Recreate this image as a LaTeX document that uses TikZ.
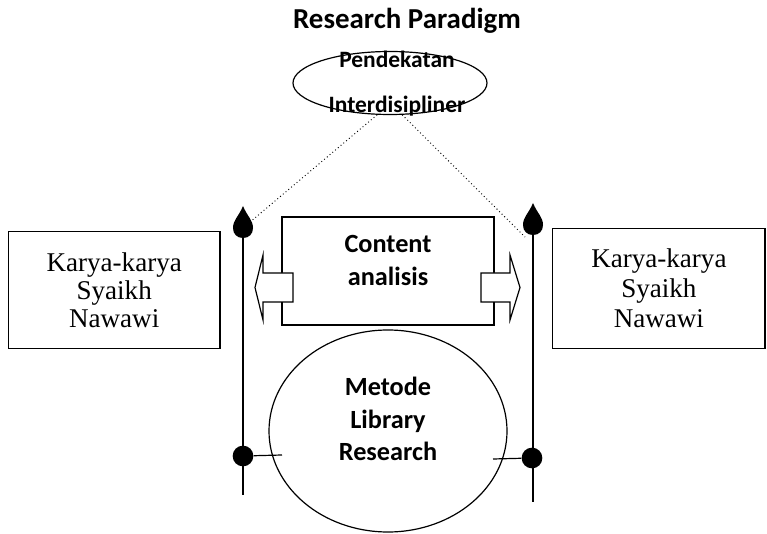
\documentclass[tikz,border=0pt]{standalone}
\usepackage{fontspec}
\setmainfont{Liberation Serif}
\newfontfamily\calibri{Carlito}
\usetikzlibrary{shapes.geometric, arrows, positioning}

\tikzstyle{frame} = [rectangle, draw=black, line width=0.9pt, text centered, align=center, font=\fontsize{20.3}{21}\selectfont]
\tikzstyle{oval} = [ellipse, draw=black, line width=0.9pt, inner sep=0pt]
\tikzstyle{boldtext} = [font=\calibri\bfseries\fontsize{19.7}{24.4}\selectfont, align=center]
\tikzstyle{dot} = [circle, fill=black, inner sep=0pt, minimum size=15.5pt]
\tikzstyle{pole} = [line width=0.9pt]
\tikzstyle{guide} = [dotted, line width=0.7pt]
\tikzstyle{blockarrow} = [draw=black, fill=white, line width=0.9pt]

\newcommand{\teardrop}[1]{\fill[shift={(#1)}] (0,-22) .. controls (4,-12) and (10,-8) .. (10,0) .. controls (10,6) and (6,10) .. (0,10) .. controls (-6,10) and (-10,6) .. (-10,0) .. controls (-10,-8) and (-4,-12) .. (0,-22) -- cycle;}

\begin{document}
\begin{tikzpicture}[x=0.75pt, y=-0.75pt]
\useasboundingbox (0,0) rectangle (767,534);

\node (approach) [oval, minimum width=145.5pt, minimum height=47.25pt] at (390,83) {};
\node (approachtext) [boldtext, font=\calibri\bfseries\fontsize{17.6}{34.3}\selectfont] at (397,83.5) {Pendekatan\\Interdisipliner};
\node (title) [above=9.5pt of approach, xshift=12.75pt, font=\calibri\bfseries\fontsize{21.7}{26}\selectfont] {Research Paradigm};

\node (content) [frame, minimum width=159pt, minimum height=81pt] at (388,271) {};
\node (contenttext) [boldtext] at (388,260.5) {Content\\analisis};

\node (method) [oval, minimum width=178.5pt, minimum height=151.5pt] at (388,431) {};
\node (methodtext) [boldtext] at (388,419) {Metode\\Library\\Research};

\node (worksleft) [frame, minimum width=158.8pt, minimum height=87.5pt] at (114.2,290) {Karya-karya\\Syaikh\\Nawawi};
\node (worksright) [frame, minimum width=159.2pt, minimum height=90pt, font=\fontsize{20.3}{22.5}\selectfont] at (658.9,288.3) {Karya-karya\\Syaikh\\Nawawi};

% poles on both sides
\coordinate (lefttop) at (243,228);
\coordinate (leftbottom) at (243,495);
\coordinate (leftfoot) at (282,455);
\node (leftdot) [dot] at (243,456) {};
\coordinate (righttop) at (533,225);
\coordinate (rightbottom) at (533,502);
\coordinate (rightfoot) at (493,459);
\coordinate (rightend) at (525,237);
\node (rightdot) [dot] at (532,458) {};

\draw [guide] (approach.248) -- (lefttop);
\draw [guide] (approach.291) -- (rightend);

\draw [pole] (lefttop) -- (leftbottom);
\draw [pole] (righttop) -- (rightbottom);
\draw [pole] (leftdot) -- (leftfoot);
\draw [pole] (rightdot) -- (rightfoot);
\teardrop{lefttop}
\teardrop{righttop}

% block arrows out of the content box
\draw [blockarrow] (293,273) -- (263,273) -- (263,255) -- (255,287.5) -- (263,320) -- (263,302) -- (293,302) -- cycle;
\draw [blockarrow] (481,273) -- (510,273) -- (510,255) -- (520,287.5) -- (510,320) -- (510,302) -- (481,302) -- cycle;

\end{tikzpicture}
\end{document}
